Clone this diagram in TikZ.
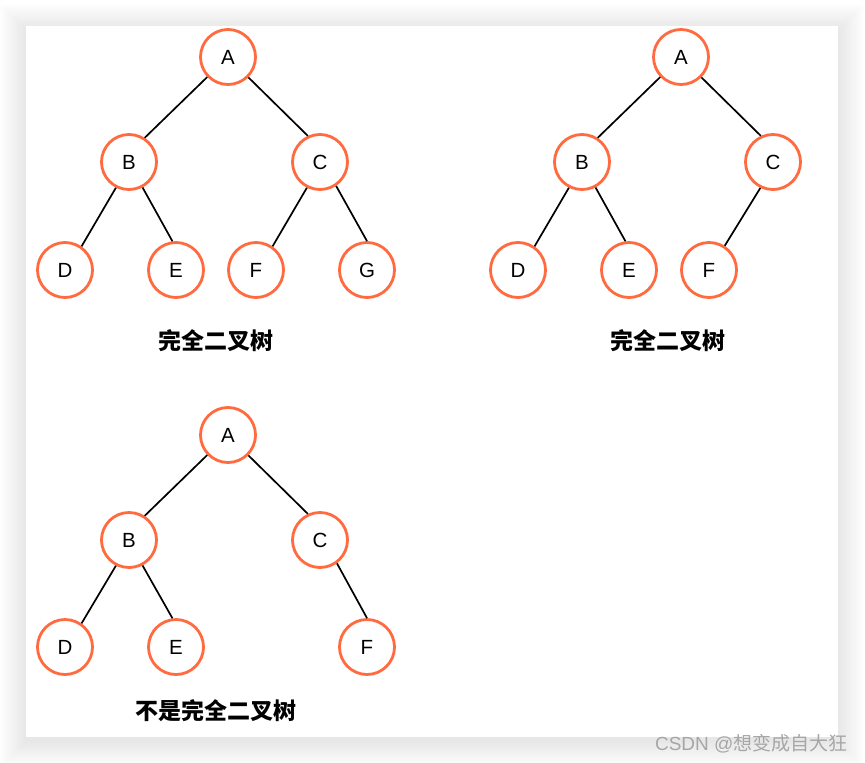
\documentclass[tikz,border=0pt]{standalone}
\usepackage{fontspec}
\setmainfont{Liberation Sans}
\newfontfamily\cjk{Noto Sans CJK SC}
\usetikzlibrary{positioning}
\definecolor{ring}{HTML}{FF6B3F}
\definecolor{wmk}{HTML}{A6A6A6}
\tikzset{
  vtx/.style={circle, draw=ring, line width=2.8pt, minimum size=55pt, inner sep=0pt, font=\fontsize{20.5}{20}\selectfont},
  edg/.style={line width=1.7pt},
  ttl/.style={font=\cjk\bfseries\fontsize{23}{23}\selectfont}}
\begin{document}
\begin{tikzpicture}[x=1pt, y=-1pt]
\useasboundingbox (0,0) rectangle (865,763);
\foreach \i in {1,...,24} \fill[black, opacity=0.0045] (26-1.1*\i,30-1.1*\i) rectangle (838+1.1*\i,741+1.1*\i);
\fill[white] (26,26) rectangle (838,737);
\node[vtx] (a1) at (228,57) {A};
\node[vtx] (b1) at (129,162) {B};
\node[vtx] (c1) at (320,162) {C};
\node[vtx] (d1) at (65,270) {D};
\node[vtx] (e1) at (176,270) {E};
\node[vtx] (f1) at (256,270) {F};
\node[vtx] (g1) at (367,270) {G};
\node[ttl] (t1) at (216,341) {完全二叉树};
\draw[edg] (a1.224) -- (b1.57);
\draw[edg] (a1.315) -- (c1.115);
\draw[edg] (b1.-117) -- (d1.55);
\draw[edg] (b1.-62) -- (e1.97);
\draw[edg] (c1.-117) -- (f1.55);
\draw[edg] (c1.-56) -- (g1.90);
\node[vtx] (a2) at (681,57) {A};
\node[vtx] (b2) at (582,162) {B};
\node[vtx] (c2) at (773,162) {C};
\node[vtx] (d2) at (518,270) {D};
\node[vtx] (e2) at (629,270) {E};
\node[vtx] (f2) at (709,270) {F};
\node[ttl] (t2) at (668,341) {完全二叉树};
\draw[edg] (a2.224) -- (b2.57);
\draw[edg] (a2.315) -- (c2.115);
\draw[edg] (b2.-117) -- (d2.55);
\draw[edg] (b2.-62) -- (e2.97);
\draw[edg] (c2.-116) -- (f2.57);
\node[vtx] (a3) at (228,435) {A};
\node[vtx] (b3) at (129,540) {B};
\node[vtx] (c3) at (320,540) {C};
\node[vtx] (d3) at (65,647) {D};
\node[vtx] (e3) at (176,647) {E};
\node[vtx] (f3) at (367,647) {F};
\node[ttl] (t3) at (216,711) {不是完全二叉树};
\draw[edg] (a3.224) -- (b3.57);
\draw[edg] (a3.315) -- (c3.115);
\draw[edg] (b3.-117) -- (d3.55);
\draw[edg] (b3.-62) -- (e3.97);
\draw[edg] (c3.-54) -- (f3.90);
\node[anchor=east, text=wmk, font=\fontsize{19}{19}\selectfont] (wm) at (851,744) {CSDN @{\cjk 想变成自大狂}};
\end{tikzpicture}
\end{document}
